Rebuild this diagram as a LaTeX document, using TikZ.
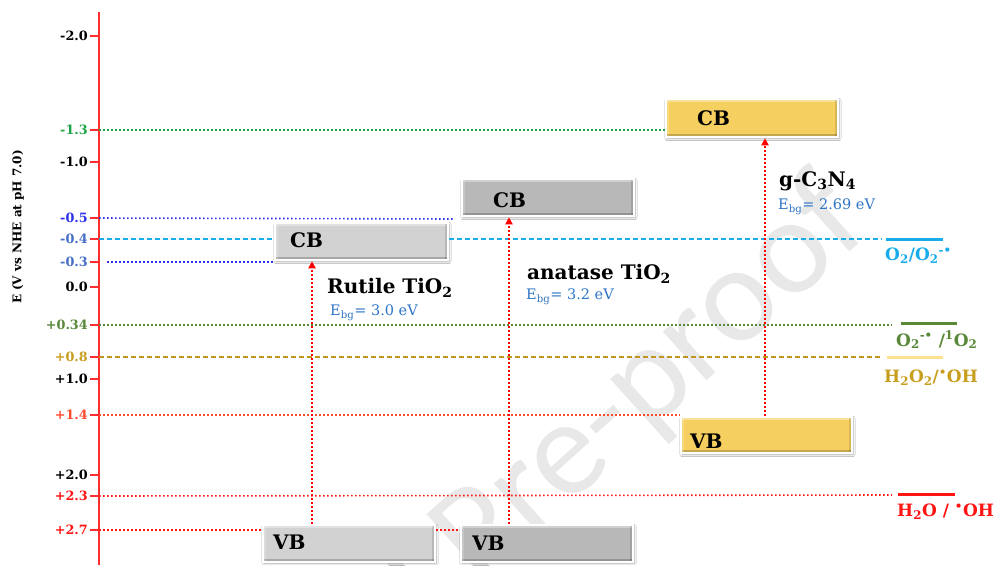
\documentclass[tikz,border=0pt]{standalone}
\usepackage{fontspec}
\setmainfont{DejaVu Serif}
\newfontfamily\wmfont{Carlito}
\usetikzlibrary{arrows.meta,shadows.blur,calc}

\definecolor{axisred}{RGB}{255,45,45}
\definecolor{tickgreen}{RGB}{30,165,70}
\definecolor{deepblue}{RGB}{45,50,235}
\definecolor{steelblue}{RGB}{70,110,200}
\definecolor{skyblue}{RGB}{25,172,235}
\definecolor{olivegreen}{RGB}{88,136,56}
\definecolor{goldtxt}{RGB}{200,158,30}
\definecolor{goldline}{RGB}{190,150,30}
\definecolor{paleyellow}{RGB}{255,226,145}
\definecolor{orangered}{RGB}{255,75,45}
\definecolor{brightred}{RGB}{255,20,20}
\definecolor{ebgblue}{RGB}{46,117,198}
\definecolor{rutilegray}{RGB}{210,210,210}
\definecolor{anatasegray}{RGB}{184,184,184}
\definecolor{gcngold}{RGB}{245,208,96}
\definecolor{wmgray}{RGB}{232,232,232}

\tikzset{
  ticklabel/.style={font=\bfseries\fontsize{12.8}{14}\selectfont, anchor=east, inner sep=0pt},
  leveldots/.style={line width=1.6pt, dash pattern=on 1.6pt off 2.4pt},
  leveldash/.style={line width=1.4pt, dash pattern=on 5pt off 3pt},
  band/.style={draw=white, line width=2.5pt, inner sep=0pt,
    blur shadow={shadow xshift=1pt, shadow yshift=-1.5pt, shadow blur steps=6, shadow opacity=35},
    path picture={
      \fill[white,opacity=.35] (path picture bounding box.north west) rectangle ([yshift=-3pt]path picture bounding box.north east);
      \fill[black,opacity=.2] (path picture bounding box.south west) rectangle ([yshift=3pt]path picture bounding box.south east);
      \fill[white,opacity=.2] (path picture bounding box.north west) rectangle ([xshift=3pt]path picture bounding box.south west);
      \fill[black,opacity=.12] (path picture bounding box.north east) rectangle ([xshift=-3pt]path picture bounding box.south east);
    }},
  bandtext/.style={font=\bfseries\fontsize{20}{22}\selectfont, anchor=west, inner sep=0pt},
  excite/.style={red, line width=2pt, dash pattern=on 2pt off 2pt, -{Triangle[width=7pt,length=7pt]}},
  phase/.style={font=\bfseries\fontsize{20}{22}\selectfont, anchor=west, inner sep=0pt},
  gap/.style={font=\fontsize{14.5}{16}\selectfont, text=ebgblue, anchor=west, inner sep=0pt},
  redox/.style={font=\bfseries\fontsize{17}{19}\selectfont, anchor=west, inner sep=0pt},
  redoxbar/.style={line width=3pt},
}

\begin{document}
\begin{tikzpicture}[x=1pt,y=-1pt]
\useasboundingbox[fill=white] (0,0) rectangle (995,565);

% watermark
\node[font=\wmfont\fontsize{137}{140}\selectfont, text=wmgray, rotate=42, anchor=base east, inner sep=0pt] (wm) at (873,231) {Journal Pre-proof};

% potential axis
\coordinate (axtop) at (99,12);
\coordinate (axbot) at (99,565);
\draw[axisred, line width=1.3pt] (axtop) -- (axbot);
\node[font=\bfseries\fontsize{12}{14}\selectfont, rotate=90] (axlabel) at (18,227) {E (V vs NHE at pH 7.0)};

\foreach \yy/\nm/\txt/\col in {
   36/m20/-2.0/black, 130/m13/-1.3/tickgreen, 162/m10/-1.0/black,
   218/m05/-0.5/deepblue, 239/m04/-0.4/steelblue, 262/m03/-0.3/steelblue,
   287/z00/0.0/black, 325/p034/+0.34/olivegreen, 357/p08/+0.8/goldtxt,
   379/p10/+1.0/black, 415/p14/+1.4/orangered, 475/p20/+2.0/black,
   496/p23/+2.3/brightred, 530/p27/+2.7/brightred}{
  \coordinate (ax-\nm) at (99,\yy);
  \draw[axisred, line width=1.3pt] (ax-\nm) -- ++(-9,0);
  \node[ticklabel, text=\col] (lab-\nm) at (88,\yy) {\txt};
}

% upper band boxes
\node[band, fill=rutilegray,  minimum width=173pt, minimum height=37pt] (rcb) at (361.5,241.5) {};
\node[band, fill=anatasegray, minimum width=172pt, minimum height=37pt] (acb) at (548,197.5) {};
\node[band, fill=gcngold,     minimum width=172pt, minimum height=38pt] (gcb) at (752,118) {};
\node[band, fill=gcngold,     minimum width=171pt, minimum height=36pt] (gvb) at (766.5,435) {};

% end points of the reference lines
\coordinate (bluestop) at (453,219);
\coordinate (cyanstop) at (882,239);
\coordinate (greenstop) at (892,325);
\coordinate (goldstop) at (882,357);
\coordinate (redstop) at (892,495);

% reference levels
\draw[leveldots, tickgreen] (ax-m13) -- (gcb.west |- ax-m13);
\draw[leveldots, deepblue] (ax-m05) -- (bluestop);
\draw[leveldots, deepblue] ([xshift=8pt]ax-m03) -- (rcb.west |- ax-m03);
\draw[leveldots, olivegreen] (ax-p034) -- (greenstop);
\draw[leveldash, goldline] (ax-p08) -- (goldstop);
\draw[leveldots, orangered] (ax-p14) -- (gvb.west |- ax-p14);
\draw[leveldots, brightred] (ax-p23) -- (redstop);

% lower band boxes
\node[band, fill=rutilegray,  minimum width=172pt, minimum height=37pt] (rvb) at (349,543.5) {};
\node[band, fill=anatasegray, minimum width=172pt, minimum height=37pt] (avb) at (547,543.5) {};
\draw[leveldots, brightred] (ax-p27) -- (rvb.west |- ax-p27);
\draw[leveldots, brightred] (rvb.east |- ax-p27) -- (avb.west |- ax-p27);

% O2/O2- level, interrupted by the rutile CB
\draw[leveldash, skyblue] (ax-m04) -- (rcb.west |- ax-m04);
\draw[leveldash, skyblue] (rcb.east |- ax-m04) -- (cyanstop);

% band labels
\node[bandtext] (rcbt) at (290,240) {CB};
\node[bandtext] (acbt) at (493,200) {CB};
\node[bandtext] (gcbt) at (697,118) {CB};
\node[bandtext] (gvbt) at (690,441) {VB};
\node[bandtext] (rvbt) at (273,542) {VB};
\node[bandtext] (avbt) at (472,543) {VB};

% excitation arrows
\coordinate (ra) at (312,0);
\coordinate (aa) at (509,0);
\coordinate (ga) at (765,0);
\draw[excite] (rvb.north -| ra) -- (rcb.south -| ra);
\draw[excite] (avb.north -| aa) -- (acb.south -| aa);
\draw[excite] (gvb.north -| ga) -- (gcb.south -| ga);

% semiconductor names and band gaps
\node[phase] (rname) at (327,288) {Rutile TiO\textsubscript{2}};
\node[gap] (rgap) at (330,313) {E\textsubscript{bg}= 3.0 eV};
\node[phase] (aname) at (527,274) {anatase TiO\textsubscript{2}};
\node[gap] (agap) at (526,297) {E\textsubscript{bg}= 3.2 eV};
\node[phase] (gname) at (779,181) {g-C\textsubscript{3}N\textsubscript{4}};
\node[gap] (ggap) at (778,207) {E\textsubscript{bg}= 2.69 eV};

% redox couples
\coordinate (o2a) at (886,239);  \coordinate (o2b) at (943,239);
\coordinate (soa) at (901,323);  \coordinate (sob) at (957,323);
\coordinate (hpa) at (887,357);  \coordinate (hpb) at (943,357);
\coordinate (wha) at (898,494);  \coordinate (whb) at (955,494);
\draw[redoxbar, skyblue] (o2a) -- (o2b);
\draw[redoxbar, olivegreen] (soa) -- (sob);
\draw[redoxbar, paleyellow] (hpa) -- (hpb);
\draw[redoxbar, brightred] (wha) -- (whb);
\node[redox, text=skyblue] (o2t) at (885,256) {O\textsubscript{2}/O\textsubscript{2}\textsuperscript{-•}};
\node[redox, text=olivegreen] (sot) at (896,340) {O\textsubscript{2}\textsuperscript{-•} /\textsuperscript{1}O\textsubscript{2}};
\node[redox, text=goldtxt] (hpt) at (884,378) {H\textsubscript{2}O\textsubscript{2}/\textsuperscript{•}OH};
\node[redox, text=brightred] (wht) at (897,512) {H\textsubscript{2}O / \textsuperscript{•}OH};
\end{tikzpicture}
\end{document}
